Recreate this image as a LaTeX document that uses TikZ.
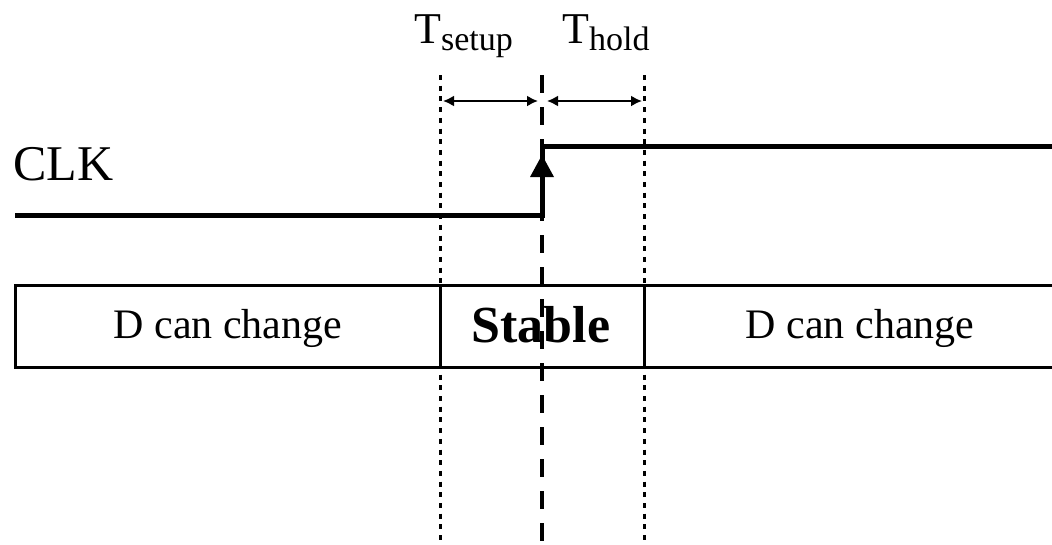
\documentclass[tikz,border=0pt]{standalone}
\usepackage{fontspec}
\setmainfont{Liberation Serif}
\usetikzlibrary{arrows.meta}
\newcommand{\fs}[1]{\fontsize{#1}{#1}\selectfont}
\begin{document}
\begin{tikzpicture}[x=1pt,y=-1pt,
  lbl/.style={inner sep=0pt, anchor=base, font=\rmfamily},
  wave/.style={line width=5pt, line join=miter},
  frame/.style={line width=3pt},
  guide/.style={line width=3pt, dash pattern=on 5pt off 5.7pt},
  edgeline/.style={line width=4pt, dash pattern=on 18pt off 14pt},
  dim/.style={line width=2pt, {Latex[length=11pt,width=11pt]}-{Latex[length=11pt,width=11pt]}},
]
\useasboundingbox (0,0) rectangle (1052,544);

% labels
\node[lbl, anchor=base west] (clk) at (13,180) {\fs{50}CLK};
\node[lbl, anchor=base west] (tsetup) at (414,43)
  {\fs{44}T\raisebox{-7pt}{\rmfamily\fs{34}setup}};
\node[lbl, anchor=base west] (thold) at (562,43)
  {\fs{44}T\raisebox{-7pt}{\rmfamily\fs{34}hold}};
\node[lbl] (dleft) at (228,338) {\fs{42}D can change};
\node[lbl] (stable) at (541,342) {\fs{52}\bfseries Stable};
\node[lbl] (dright) at (860,338) {\fs{42}D can change};

% clock waveform
\coordinate (lowL) at (15,215);
\coordinate (lowR) at (542,215);
\coordinate (highL) at (542,146);
\coordinate (highR) at (1052,146);
\coordinate (rise) at (542,143.5);
\draw[wave] (lowL) -- (lowR) -- (rise);
\draw[wave] (highL) -- (highR);
\fill (542,155) -- (530,177) -- (554,177) -- cycle;

% data band
\draw[frame] (1052,285) -- (15,285) -- (15,367) -- (1052,367);
\draw[frame] (440,285) -- (440,367);
\draw[frame] (644,285) -- (644,367);

% timing guides
\coordinate (sTop) at (440,75);
\coordinate (sBot) at (440,544);
\coordinate (hTop) at (644,75);
\coordinate (hBot) at (644,544);
\coordinate (eTop) at (542,75);
\coordinate (eBot) at (542,544);
\draw[guide] (sTop) -- (sBot);
\draw[guide] (hTop) -- (hBot);
\draw[edgeline] (eTop) -- (eBot);

% setup / hold intervals
\coordinate (sL) at (443,101);
\coordinate (sR) at (538,101);
\coordinate (hL) at (547,101);
\coordinate (hR) at (642,101);
\draw[dim] (sL) -- (sR);
\draw[dim] (hL) -- (hR);
\end{tikzpicture}
\end{document}
